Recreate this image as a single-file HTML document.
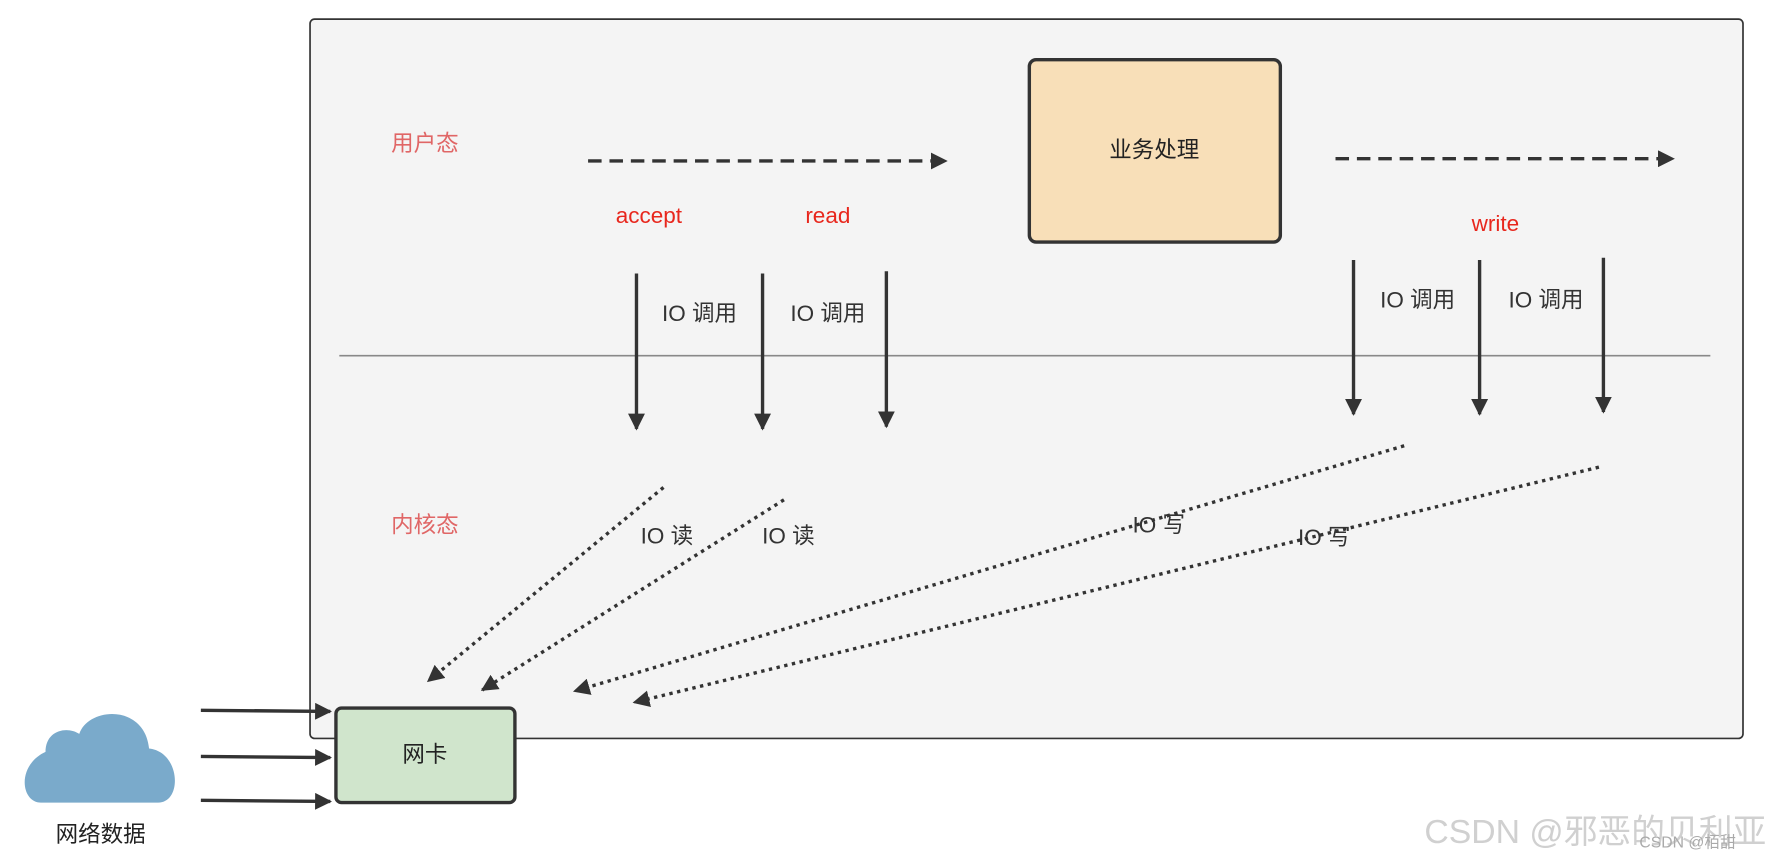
<!DOCTYPE html>
<html><head><meta charset="utf-8"><style>
html,body{margin:0;padding:0;background:#fff;}
svg{display:block;}
text{font-family:"Liberation Sans","Noto Sans CJK SC",sans-serif;}
</style></head><body>
<svg width="1766" height="860" viewBox="0 0 1568 764" xmlns="http://www.w3.org/2000/svg">
<defs>
<marker id="a" viewBox="0 0 10 10" refX="9" refY="5" markerWidth="5" markerHeight="5" orient="auto" markerUnits="strokeWidth"><path d="M0,0 L10,5 L0,10 z" fill="#333"/></marker>
<marker id="b" viewBox="0 0 10 10" refX="9" refY="5" markerWidth="8" markerHeight="6" orient="auto" markerUnits="userSpaceOnUse"><path d="M0,0 L10,5 L0,10 z" fill="#333"/></marker>
</defs>
<rect x="275" y="17" width="1273" height="639" rx="4" fill="#f4f4f4" stroke="#333" stroke-width="1.5"/>
<text x="377" y="134" font-size="20" fill="#e06666" text-anchor="middle">用户态</text>
<text x="377" y="473" font-size="20" fill="#e06666" text-anchor="middle">内核态</text>
<line x1="301" y1="316" x2="1519" y2="316" stroke="#888" stroke-width="1.5"/>
<line x1="522" y1="143" x2="840" y2="143" stroke="#333" stroke-width="3" stroke-dasharray="12,7" marker-end="url(#a)"/>
<line x1="1186" y1="141" x2="1486" y2="141" stroke="#333" stroke-width="3" stroke-dasharray="12,7" marker-end="url(#a)"/>
<rect x="914" y="53" width="223" height="162" rx="6" fill="#f8dfb8" stroke="#333" stroke-width="3"/>
<text x="1025" y="140" font-size="20" fill="#222" text-anchor="middle">业务处理</text>
<text x="576" y="198" font-size="20" fill="#e8271d" text-anchor="middle">accept</text>
<text x="735" y="198" font-size="20" fill="#e8271d" text-anchor="middle">read</text>
<text x="1328" y="205" font-size="20" fill="#e8271d" text-anchor="middle">write</text>
<g stroke="#333" stroke-width="3" marker-end="url(#a)">
<line x1="565" y1="243" x2="565" y2="381"/>
<line x1="677" y1="243" x2="677" y2="381"/>
<line x1="787" y1="241" x2="787" y2="379"/>
<line x1="1202" y1="231" x2="1202" y2="368"/>
<line x1="1314" y1="231" x2="1314" y2="368"/>
<line x1="1424" y1="229" x2="1424" y2="366"/>
</g>
<g font-size="20" fill="#333" text-anchor="middle">
<text x="621" y="285">IO 调用</text>
<text x="735" y="285">IO 调用</text>
<text x="1259" y="273">IO 调用</text>
<text x="1373" y="273">IO 调用</text>
<text x="592" y="483">IO 读</text>
<text x="700" y="483">IO 读</text>
<text x="1029" y="473">IO 写</text>
<text x="1176" y="484">IO 写</text>
</g>
<g stroke="#333" stroke-width="3" stroke-dasharray="3,4" marker-end="url(#a)">
<line x1="589" y1="433" x2="380" y2="605"/>
<line x1="696" y1="444" x2="428" y2="613"/>
<line x1="1247" y1="396" x2="510" y2="614"/>
<line x1="1420" y1="415" x2="563" y2="624"/>
</g>
<rect x="298" y="629" width="159" height="84" rx="5" fill="#d0e5cc" stroke="#333" stroke-width="3"/>
<text x="377" y="677" font-size="20" fill="#222" text-anchor="middle">网卡</text>
<g stroke="#333" stroke-width="3" marker-end="url(#a)">
<line x1="178" y1="631" x2="293" y2="632"/>
<line x1="178" y1="672" x2="293" y2="673"/>
<line x1="178" y1="711" x2="293" y2="712"/>
</g>
<path d="M36,713 C18,713 14,680 40,668 C40,648 60,645 70,652 C78,628 128,625 132,665 C160,668 162,713 140,713 Z" fill="#7aaacb"/>
<text x="89" y="748" font-size="20" fill="#222" text-anchor="middle">网络数据</text>
<text x="1265" y="749" font-size="30" fill="#d0d0d0">CSDN @邪恶的贝利亚</text>
<text x="1456" y="753" font-size="14" fill="#aaa">CSDN @栢甜</text>
</svg>
</body></html>
